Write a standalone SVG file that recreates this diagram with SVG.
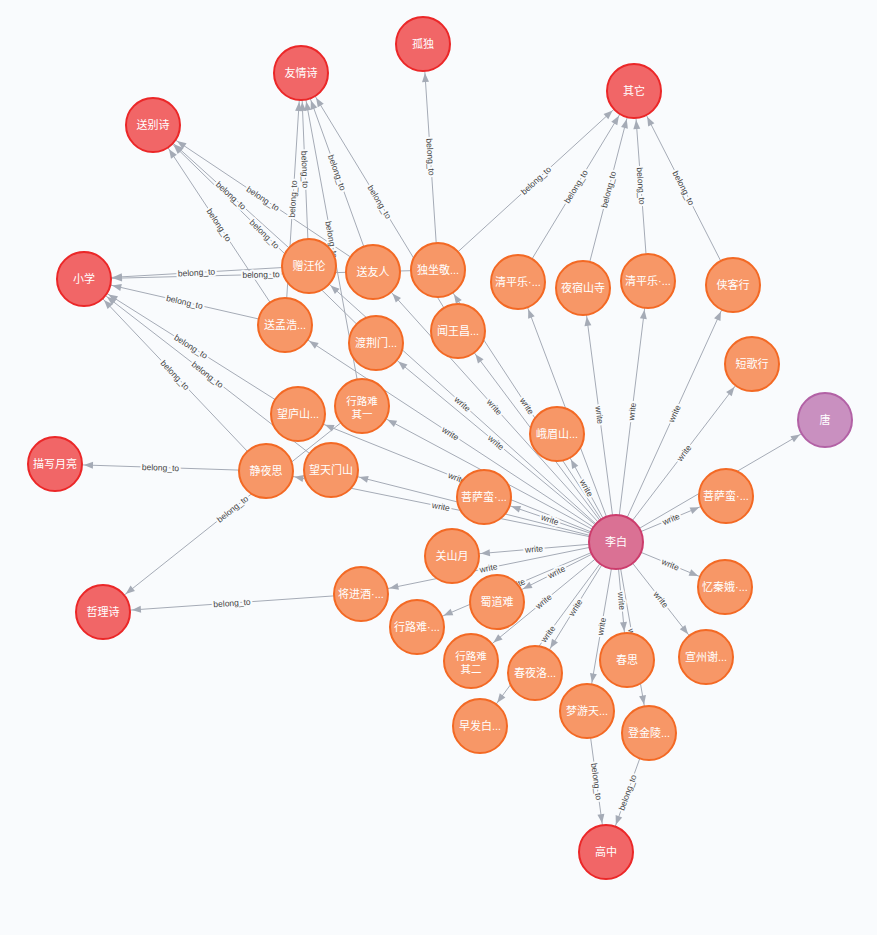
<svg xmlns="http://www.w3.org/2000/svg" width="877" height="935" viewBox="0 0 877 935">
<style>
.e line{stroke:#a5abb6;stroke-width:1;fill:none;marker-end:url(#arr)}
.el{font-family:"Liberation Sans",Arial,sans-serif;font-size:8.5px;fill:#444;text-anchor:middle;paint-order:stroke;stroke:#f9fbfd;stroke-width:4px;stroke-linejoin:round}
.n circle{stroke-width:2}
.cat circle{fill:#f16667;stroke:#eb2728}
.poem circle{fill:#f79767;stroke:#f36924}
.person circle{fill:#da7194;stroke:#cc3c6c}
.dyn circle{fill:#c990c0;stroke:#b261a5}
.n text{font-family:"Liberation Sans","Noto Sans CJK SC",sans-serif;font-size:11px;fill:#fff;text-anchor:middle}
.n text.two{font-size:10.5px}
</style>
<defs>
<marker id="arr" markerUnits="userSpaceOnUse" markerWidth="40" markerHeight="8" refX="38" refY="3.5" orient="auto" overflow="visible">
<path d="M0,0 L9,3.5 L0,7 Z" fill="#a5abb6"/>
</marker>
</defs>
<rect width="877" height="935" fill="#f9fbfd"/>
<g id="edges" class="e">
<line x1="616" y1="542" x2="309" y2="266"/>
<line x1="616" y1="542" x2="373" y2="272"/>
<line x1="616" y1="542" x2="438" y2="270"/>
<line x1="616" y1="542" x2="285" y2="325"/>
<line x1="616" y1="542" x2="376" y2="343"/>
<line x1="616" y1="542" x2="458" y2="331"/>
<line x1="616" y1="542" x2="518" y2="282"/>
<line x1="616" y1="542" x2="583" y2="288"/>
<line x1="616" y1="542" x2="648" y2="281"/>
<line x1="616" y1="542" x2="733" y2="285"/>
<line x1="616" y1="542" x2="752" y2="364"/>
<line x1="616" y1="542" x2="557" y2="434"/>
<line x1="616" y1="542" x2="298" y2="414"/>
<line x1="616" y1="542" x2="362" y2="406"/>
<line x1="616" y1="542" x2="266" y2="471"/>
<line x1="616" y1="542" x2="331" y2="470"/>
<line x1="616" y1="542" x2="484" y2="497"/>
<line x1="616" y1="542" x2="726" y2="496"/>
<line x1="616" y1="542" x2="452" y2="556"/>
<line x1="616" y1="542" x2="361" y2="594"/>
<line x1="616" y1="542" x2="497" y2="602"/>
<line x1="616" y1="542" x2="417" y2="627"/>
<line x1="616" y1="542" x2="471" y2="661"/>
<line x1="616" y1="542" x2="535" y2="673"/>
<line x1="616" y1="542" x2="627" y2="660"/>
<line x1="616" y1="542" x2="725" y2="587"/>
<line x1="616" y1="542" x2="706" y2="657"/>
<line x1="616" y1="542" x2="480" y2="726"/>
<line x1="616" y1="542" x2="587" y2="711"/>
<line x1="616" y1="542" x2="649" y2="733"/>
<line x1="616" y1="542" x2="825" y2="420"/>
<line x1="309" y1="266" x2="301" y2="73"/>
<line x1="285" y1="325" x2="301" y2="73"/>
<line x1="373" y1="272" x2="301" y2="73"/>
<line x1="458" y1="331" x2="301" y2="73"/>
<line x1="362" y1="406" x2="301" y2="73"/>
<line x1="438" y1="270" x2="423" y2="44"/>
<line x1="438" y1="270" x2="634" y2="91"/>
<line x1="518" y1="282" x2="634" y2="91"/>
<line x1="583" y1="288" x2="634" y2="91"/>
<line x1="648" y1="281" x2="634" y2="91"/>
<line x1="733" y1="285" x2="634" y2="91"/>
<line x1="309" y1="266" x2="153" y2="125"/>
<line x1="373" y1="272" x2="153" y2="125"/>
<line x1="376" y1="343" x2="153" y2="125"/>
<line x1="285" y1="325" x2="153" y2="125"/>
<line x1="309" y1="266" x2="84" y2="279"/>
<line x1="438" y1="270" x2="84" y2="279"/>
<line x1="285" y1="325" x2="84" y2="279"/>
<line x1="298" y1="414" x2="84" y2="279"/>
<line x1="331" y1="470" x2="84" y2="279"/>
<line x1="266" y1="471" x2="84" y2="279"/>
<line x1="266" y1="471" x2="55" y2="464"/>
<line x1="362" y1="406" x2="103" y2="612"/>
<line x1="361" y1="594" x2="103" y2="612"/>
<line x1="587" y1="711" x2="606" y2="852"/>
<line x1="649" y1="733" x2="606" y2="852"/>
<g id="edge-labels">
<text class="el" dy="3" transform="translate(462.5,404) rotate(42)">write</text>
<text class="el" dy="3" transform="translate(494.5,407) rotate(48)">write</text>
<text class="el" dy="3" transform="translate(527,406) rotate(56.8)">write</text>
<text class="el" dy="3" transform="translate(450.5,433.5) rotate(33.3)">write</text>
<text class="el" dy="3" transform="translate(496,442.5) rotate(39.7)">write</text>
<text class="el" dy="3" transform="translate(599.5,415) rotate(82.6)">write</text>
<text class="el" dy="3" transform="translate(632,411.5) rotate(-83)">write</text>
<text class="el" dy="3" transform="translate(674.5,413.5) rotate(-65.5)">write</text>
<text class="el" dy="3" transform="translate(684,453) rotate(-52.6)">write</text>
<text class="el" dy="3" transform="translate(586.5,488) rotate(61.4)">write</text>
<text class="el" dy="3" transform="translate(457,478) rotate(21.9)">write</text>
<text class="el" dy="3" transform="translate(441,506.5) rotate(11.5)">write</text>
<text class="el" dy="3" transform="translate(550,519.5) rotate(18.8)">write</text>
<text class="el" dy="3" transform="translate(671,519) rotate(-22.7)">write</text>
<text class="el" dy="3" transform="translate(534,549) rotate(-4.9)">write</text>
<text class="el" dy="3" transform="translate(488.5,568) rotate(-11.5)">write</text>
<text class="el" dy="3" transform="translate(556.5,572) rotate(-26.8)">write</text>
<text class="el" dy="3" transform="translate(516.5,584.5) rotate(-23.1)">write</text>
<text class="el" dy="3" transform="translate(543.5,601.5) rotate(-39.4)">write</text>
<text class="el" dy="3" transform="translate(575.5,607.5) rotate(-58.3)">write</text>
<text class="el" dy="3" transform="translate(621.5,601) rotate(84.7)">write</text>
<text class="el" dy="3" transform="translate(670.5,564.5) rotate(22.4)">write</text>
<text class="el" dy="3" transform="translate(661,599.5) rotate(52)">write</text>
<text class="el" dy="3" transform="translate(548,634) rotate(-53.5)">write</text>
<text class="el" dy="3" transform="translate(601.5,626.5) rotate(-80.3)">write</text>
<text class="el" dy="3" transform="translate(632.5,637.5) rotate(80.2)">write</text>
<text class="el" dy="3" transform="translate(305,169.5) rotate(87.6)">belong_to</text>
<text class="el" dy="3" transform="translate(293,199) rotate(-86.4)">belong_to</text>
<text class="el" dy="3" transform="translate(337,172.5) rotate(70.1)">belong_to</text>
<text class="el" dy="3" transform="translate(379.5,202) rotate(58.7)">belong_to</text>
<text class="el" dy="3" transform="translate(331.5,239.5) rotate(79.6)">belong_to</text>
<text class="el" dy="3" transform="translate(430.5,157) rotate(86.2)">belong_to</text>
<text class="el" dy="3" transform="translate(536,180.5) rotate(-42.4)">belong_to</text>
<text class="el" dy="3" transform="translate(576,186.5) rotate(-58.7)">belong_to</text>
<text class="el" dy="3" transform="translate(608.5,189.5) rotate(-75.5)">belong_to</text>
<text class="el" dy="3" transform="translate(641,186) rotate(85.8)">belong_to</text>
<text class="el" dy="3" transform="translate(683.5,188) rotate(63)">belong_to</text>
<text class="el" dy="3" transform="translate(231,195.5) rotate(42.1)">belong_to</text>
<text class="el" dy="3" transform="translate(263,198.5) rotate(33.7)">belong_to</text>
<text class="el" dy="3" transform="translate(264.5,234) rotate(44.3)">belong_to</text>
<text class="el" dy="3" transform="translate(219,225) rotate(56.6)">belong_to</text>
<text class="el" dy="3" transform="translate(196.5,272.5) rotate(-3.3)">belong_to</text>
<text class="el" dy="3" transform="translate(261,274.5) rotate(-1.5)">belong_to</text>
<text class="el" dy="3" transform="translate(184.5,302) rotate(12.9)">belong_to</text>
<text class="el" dy="3" transform="translate(191,346.5) rotate(32.2)">belong_to</text>
<text class="el" dy="3" transform="translate(207.5,374.5) rotate(37.7)">belong_to</text>
<text class="el" dy="3" transform="translate(175,375) rotate(46.5)">belong_to</text>
<text class="el" dy="3" transform="translate(160.5,467.5) rotate(1.9)">belong_to</text>
<text class="el" dy="3" transform="translate(232.5,509) rotate(-38.5)">belong_to</text>
<text class="el" dy="3" transform="translate(232,603) rotate(-4)">belong_to</text>
<text class="el" dy="3" transform="translate(596.5,781.5) rotate(82.3)">belong_to</text>
<text class="el" dy="3" transform="translate(627.5,792.5) rotate(-70.1)">belong_to</text>
</g>
</g>
<g id="nodes">
<g id="libai" class="n person" transform="translate(616,542)"><circle r="27"/><text dy="4">李白</text></g>
<g id="tang" class="n dyn" transform="translate(825,420)"><circle r="27"/><text dy="4">唐</text></g>
<g id="c-youqing" class="n cat" transform="translate(301,73)"><circle r="27"/><text dy="4">友情诗</text></g>
<g id="c-gudu" class="n cat" transform="translate(423,44)"><circle r="27"/><text dy="4">孤独</text></g>
<g id="c-qita" class="n cat" transform="translate(634,91)"><circle r="27"/><text dy="4">其它</text></g>
<g id="c-songbie" class="n cat" transform="translate(153,125)"><circle r="27"/><text dy="4">送别诗</text></g>
<g id="c-xiaoxue" class="n cat" transform="translate(84,279)"><circle r="27"/><text dy="4">小学</text></g>
<g id="c-yueliang" class="n cat" transform="translate(55,464)"><circle r="27"/><text dy="4">描写月亮</text></g>
<g id="c-zheli" class="n cat" transform="translate(103,612)"><circle r="27"/><text dy="4">哲理诗</text></g>
<g id="c-gaozhong" class="n cat" transform="translate(606,852)"><circle r="27"/><text dy="4">高中</text></g>
<g id="p1" class="n poem" transform="translate(309,266)"><circle r="27"/><text dy="4">赠汪伦</text></g>
<g id="p2" class="n poem" transform="translate(373,272)"><circle r="27"/><text dy="4">送友人</text></g>
<g id="p3" class="n poem" transform="translate(438,270)"><circle r="27"/><text dy="4">独坐敬...</text></g>
<g id="p4" class="n poem" transform="translate(285,325)"><circle r="27"/><text dy="4">送孟浩...</text></g>
<g id="p5" class="n poem" transform="translate(376,343)"><circle r="27"/><text dy="4">渡荆门...</text></g>
<g id="p6" class="n poem" transform="translate(458,331)"><circle r="27"/><text dy="4">闻王昌...</text></g>
<g id="p7" class="n poem" transform="translate(518,282)"><circle r="27"/><text dy="4">清平乐·...</text></g>
<g id="p8" class="n poem" transform="translate(583,288)"><circle r="27"/><text dy="4">夜宿山寺</text></g>
<g id="p9" class="n poem" transform="translate(648,281)"><circle r="27"/><text dy="4">清平乐·...</text></g>
<g id="p10" class="n poem" transform="translate(733,285)"><circle r="27"/><text dy="4">侠客行</text></g>
<g id="p11" class="n poem" transform="translate(752,364)"><circle r="27"/><text dy="4">短歌行</text></g>
<g id="p12" class="n poem" transform="translate(557,434)"><circle r="27"/><text dy="4">峨眉山...</text></g>
<g id="p13" class="n poem" transform="translate(298,414)"><circle r="27"/><text dy="4">望庐山...</text></g>
<g id="p14" class="n poem" transform="translate(362,406)"><circle r="27"/><text class="two" y="-1.5">行路难</text><text class="two" y="11.5">其一</text></g>
<g id="p15" class="n poem" transform="translate(266,471)"><circle r="27"/><text dy="4">静夜思</text></g>
<g id="p16" class="n poem" transform="translate(331,470)"><circle r="27"/><text dy="4">望天门山</text></g>
<g id="p17" class="n poem" transform="translate(484,497)"><circle r="27"/><text dy="4">菩萨蛮·...</text></g>
<g id="p18" class="n poem" transform="translate(726,496)"><circle r="27"/><text dy="4">菩萨蛮·...</text></g>
<g id="p19" class="n poem" transform="translate(452,556)"><circle r="27"/><text dy="4">关山月</text></g>
<g id="p20" class="n poem" transform="translate(361,594)"><circle r="27"/><text dy="4">将进酒·...</text></g>
<g id="p21" class="n poem" transform="translate(497,602)"><circle r="27"/><text dy="4">蜀道难</text></g>
<g id="p22" class="n poem" transform="translate(417,627)"><circle r="27"/><text dy="4">行路难·...</text></g>
<g id="p23" class="n poem" transform="translate(471,661)"><circle r="27"/><text class="two" y="-1.5">行路难</text><text class="two" y="11.5">其二</text></g>
<g id="p24" class="n poem" transform="translate(535,673)"><circle r="27"/><text dy="4">春夜洛...</text></g>
<g id="p25" class="n poem" transform="translate(627,660)"><circle r="27"/><text dy="4">春思</text></g>
<g id="p26" class="n poem" transform="translate(725,587)"><circle r="27"/><text dy="4">忆秦娥·...</text></g>
<g id="p27" class="n poem" transform="translate(706,657)"><circle r="27"/><text dy="4">宣州谢...</text></g>
<g id="p28" class="n poem" transform="translate(480,726)"><circle r="27"/><text dy="4">早发白...</text></g>
<g id="p29" class="n poem" transform="translate(587,711)"><circle r="27"/><text dy="4">梦游天...</text></g>
<g id="p30" class="n poem" transform="translate(649,733)"><circle r="27"/><text dy="4">登金陵...</text></g>
</g>
</svg>
